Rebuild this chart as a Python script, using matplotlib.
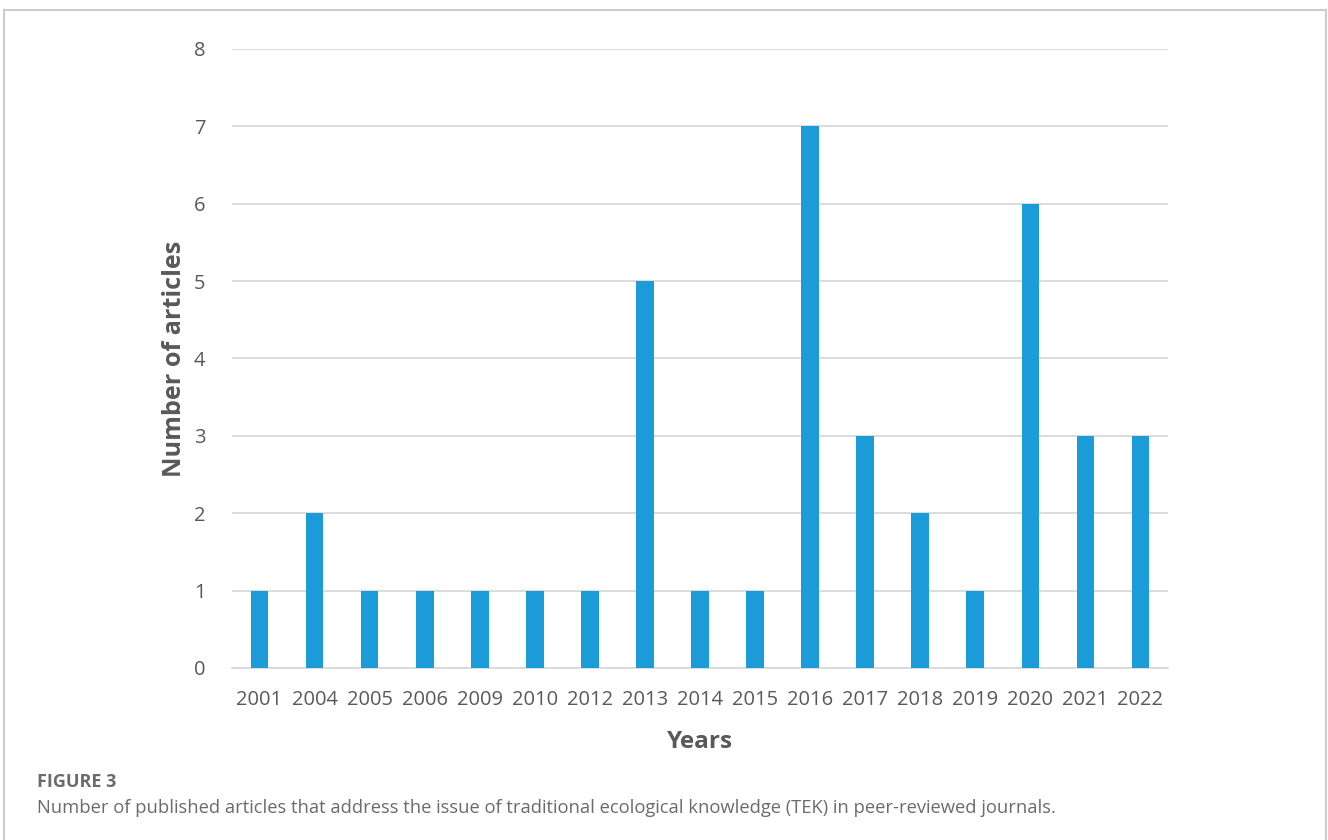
import matplotlib

matplotlib.use("Agg")
import matplotlib.pyplot as plt
from matplotlib.lines import Line2D

years = ["2001", "2004", "2005", "2006", "2009", "2010", "2012", "2013", "2014",
         "2015", "2016", "2017", "2018", "2019", "2020", "2021", "2022"]
articles = [1, 2, 1, 1, 1, 1, 1, 5, 1, 1, 7, 3, 2, 1, 6, 3, 3]
y_ticks = [0, 1, 2, 3, 4, 5, 6, 7, 8]

plt.rcParams["font.family"] = ["Open Sans", "DejaVu Sans"]

fig = plt.figure(figsize=(13.28, 8.4), dpi=100)
fig.patch.set_facecolor("white")
ax = fig.add_axes([0.1747, 0.2048, 0.7048, 0.7369])

positions = list(range(len(years)))
ax.bar(positions, articles, width=0.32, color="#1b9bd7", zorder=3)

ax.set_xlim(-0.5, len(years) - 0.5)
ax.set_ylim(0, 8)
ax.set_yticks(y_ticks)
ax.set_xticks(positions)
ax.set_xticklabels(years)
ax.tick_params(axis="both", length=0, labelsize=14.5, colors="#595959")
ax.tick_params(axis="y", pad=19)
ax.tick_params(axis="x", pad=16)
ax.grid(True, axis="y", color="#d9d9d9", linewidth=1.3, zorder=0)
for spine in ("top", "right", "left"):
    ax.spines[spine].set_visible(False)
ax.spines["bottom"].set_color("#d9d9d9")
ax.spines["bottom"].set_linewidth(1.3)

ax.set_ylabel("Number of articles", fontsize=18.2, fontweight="bold", color="#595959", labelpad=5)
ax.set_xlabel("Years", fontsize=17.5, fontweight="bold", color="#595959", labelpad=14)

# panel frame
frame_color = "#cccccc"
fig.add_artist(Line2D([4 / 1328, 1326 / 1328], [1 - 10 / 840, 1 - 10 / 840],
                      transform=fig.transFigure, color=frame_color, linewidth=1.5))
fig.add_artist(Line2D([4 / 1328, 4 / 1328], [0, 1 - 10 / 840],
                      transform=fig.transFigure, color=frame_color, linewidth=1.5))
fig.add_artist(Line2D([1326 / 1328, 1326 / 1328], [0, 1 - 10 / 840],
                      transform=fig.transFigure, color=frame_color, linewidth=1.5))

fig.text(37 / 1328, 1 - 782 / 840, "FIGURE 3", fontsize=13, fontweight="bold",
         color="#6b6b6b", va="center", ha="left")
fig.text(37 / 1328, 1 - 808 / 840,
         "Number of published articles that address the issue of traditional ecological "
         "knowledge (TEK) in peer-reviewed journals.",
         fontsize=13.2, color="#6b6b6b", va="center", ha="left")

fig.savefig("out.png", dpi=100)
plt.close(fig)
